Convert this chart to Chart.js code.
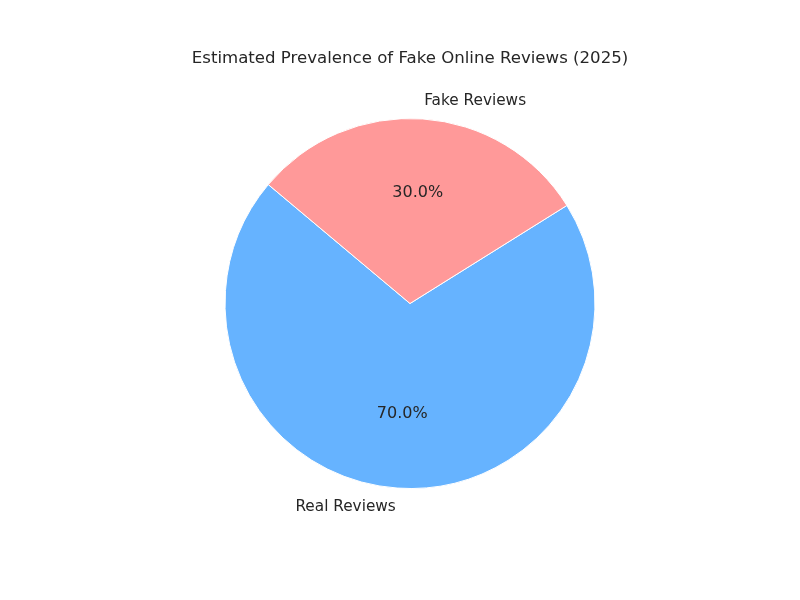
<!DOCTYPE html>
<html>
<head>
<meta charset="utf-8">
<script src="https://cdn.jsdelivr.net/npm/chart.js@4"></script>
<style>
  html, body { margin: 0; padding: 0; background: #fff; }
  canvas { display: block; }
</style>
</head>
<body>
<canvas id="chart" width="800" height="600"></canvas>
<script>
const chartTitle = 'Estimated Prevalence of Fake Online Reviews (2025)';
const categories = ['Real Reviews', 'Fake Reviews'];
const shares = [70, 30];
const sliceColors = ['#66b3ff', '#ff9999'];

// Textos das fatias: rótulo fora (1.1r) e porcentagem dentro (0.6r), como no matplotlib
const pieText = {
  id: 'pieText',
  afterDatasetsDraw(chart) {
    const ctx = chart.ctx;
    const meta = chart.getDatasetMeta(0);
    const total = shares.reduce((a, b) => a + b, 0);
    ctx.save();
    ctx.fillStyle = '#262626';
    ctx.textBaseline = 'middle';

    ctx.font = '16.6px "DejaVu Sans"';
    ctx.textAlign = 'center';
    ctx.fillText(chartTitle, 410, 58.5);

    meta.data.forEach((arc, i) => {
      const mid = (arc.startAngle + arc.endAngle) / 2;
      const r = arc.outerRadius;
      const cx = Math.cos(mid), cy = Math.sin(mid);

      ctx.font = '15.3px "DejaVu Sans"';
      ctx.textAlign = cx >= 0 ? 'left' : 'right';
      ctx.fillText(categories[i], arc.x + cx * r * 1.1, arc.y + cy * r * 1.1 + 0.5);

      ctx.font = '16px "DejaVu Sans"';
      ctx.textAlign = 'center';
      const pct = (shares[i] / total * 100).toFixed(1) + '%';
      ctx.fillText(pct, arc.x + cx * r * 0.6, arc.y + cy * r * 0.6);
    });
    ctx.restore();
  }
};

new Chart(document.getElementById('chart'), {
  type: 'pie',
  data: {
    labels: categories,
    datasets: [{
      data: shares,
      backgroundColor: sliceColors,
      borderColor: '#ffffff',
      borderWidth: 1
    }]
  },
  options: {
    responsive: false,
    animation: false,
    rotation: 58,
    layout: { padding: { left: 224, right: 204, top: 118, bottom: 111 } },
    plugins: {
      legend: { display: false },
      tooltip: { enabled: false }
    }
  },
  plugins: [pieText]
});
</script>
</body>
</html>
